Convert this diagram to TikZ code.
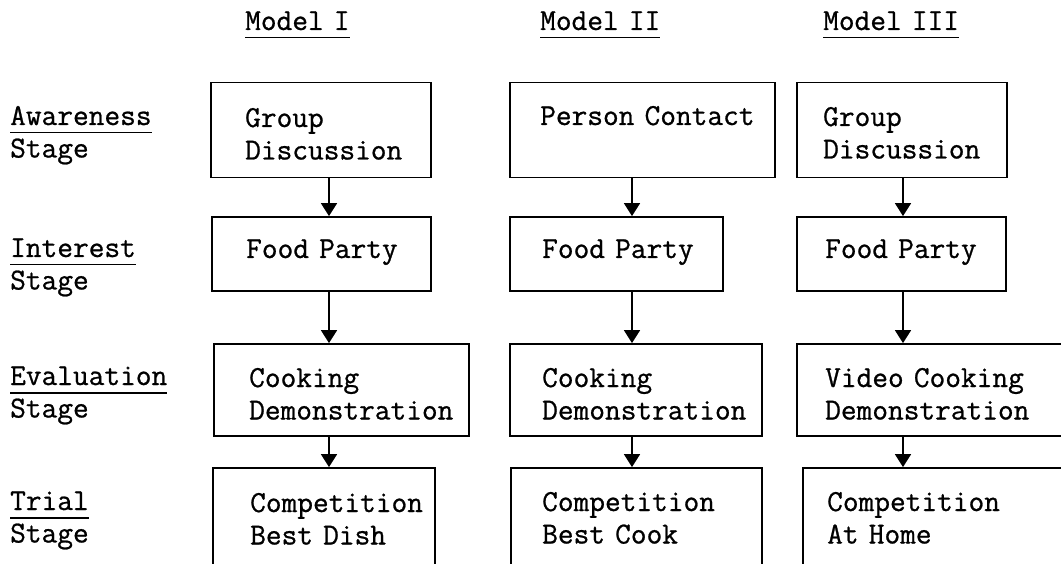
\documentclass[tikz,border=0pt]{standalone}
\usepackage{fontspec}
\usepackage{tikz}
\usetikzlibrary{arrows.meta}

\newfontfamily\typefont{Latin Modern Mono}[FakeBold=0.8]

% typed underline, a bit below the baseline
\newcommand{\typeul}[1]{\setbox0\hbox{#1}\rlap{\rule[-8.5pt]{\wd0}{1.8pt}}\box0}

\tikzset{
  stagebox/.style={draw, line width=1.8pt, inner sep=0pt},
  boxtext/.style={anchor=base west, inner sep=0pt, text width=260pt, align=left},
  flow/.style={line width=1.8pt, -{Triangle[width=16pt,length=13pt]}},
}

\begin{document}
\begin{tikzpicture}[x=1pt,y=-1pt,
    every node/.append style={font=\fontsize{30.5}{32.5}\selectfont\typefont}]
    \useasboundingbox (0,0) rectangle (1061,564);

    % column heads
    \node[boxtext] (m1) at (245,30) {\typeul{Model I}};
    \node[boxtext] (m2) at (540,30) {\typeul{Model II}};
    \node[boxtext] (m3) at (823,30) {\typeul{Model III}};

    % stages
    \node[boxtext] (s1) at (10,125) {\typeul{Awareness}\\Stage};
    \node[boxtext] (s2) at (10,257) {\typeul{Interest}\\Stage};
    \node[boxtext] (s3) at (10,385) {\typeul{Evaluation}\\Stage};
    \node[boxtext] (s4) at (10,510) {\typeul{Trial}\\Stage};

    % awareness
    \node[stagebox, minimum width=220, minimum height=95] (aw1) at (321,130) {};
    \node[stagebox, minimum width=265, minimum height=95] (aw2) at (642.5,130) {};
    \node[stagebox, minimum width=210, minimum height=95] (aw3) at (902,130) {};
    \node[boxtext] (aw1t) at (245,127) {Group\\Discussion};
    \node[boxtext] (aw2t) at (540,125) {Person Contact};
    \node[boxtext] (aw3t) at (823,126) {Group\\Discussion};

    % interest
    \node[stagebox, minimum width=219, minimum height=74] (in1) at (321.5,254) {};
    \node[stagebox, minimum width=213, minimum height=74] (in2) at (616.5,254) {};
    \node[stagebox, minimum width=209, minimum height=74] (in3) at (901.5,254) {};
    \node[boxtext] (in1t) at (246,258) {Food Party};
    \node[boxtext] (in2t) at (542,258) {Food Party};
    \node[boxtext] (in3t) at (825,258) {Food Party};

    % evaluation
    \node[stagebox, minimum width=255, minimum height=92] (ev1) at (341.5,390) {};
    \node[stagebox, minimum width=252, minimum height=92] (ev2) at (636,390) {};
    \node[stagebox, minimum width=303, minimum height=92] (ev3) at (948.5,390) {};
    \node[boxtext] (ev1t) at (249,387) {Cooking\\Demonstration};
    \node[boxtext] (ev2t) at (542,387) {Cooking\\Demonstration};
    \node[boxtext] (ev3t) at (825,387) {Video Cooking\\Demonstration};

    % trial (runs off the page)
    \node[stagebox, minimum width=222, minimum height=152] (tr1) at (324,544) {};
    \node[stagebox, minimum width=251, minimum height=152] (tr2) at (636.5,544) {};
    \node[stagebox, minimum width=297, minimum height=152] (tr3) at (951.5,544) {};
    \node[boxtext] (tr1t) at (250,512) {Competition\\Best Dish};
    \node[boxtext] (tr2t) at (542,511) {Competition\\Best Cook};
    \node[boxtext] (tr3t) at (827,511) {Competition\\At Home};

    % arrows
    \coordinate (ax1) at (329,0);
    \coordinate (ax2) at (632,0);
    \coordinate (ax3) at (903,0);
    \draw[flow] (aw1.south -| ax1) -- (in1.north -| ax1);
    \draw[flow] (in1.south -| ax1) -- (ev1.north -| ax1);
    \draw[flow] (ev1.south -| ax1) -- (tr1.north -| ax1);
    \draw[flow] (aw2.south -| ax2) -- (in2.north -| ax2);
    \draw[flow] (in2.south -| ax2) -- (ev2.north -| ax2);
    \draw[flow] (ev2.south -| ax2) -- (tr2.north -| ax2);
    \draw[flow] (aw3.south -| ax3) -- (in3.north -| ax3);
    \draw[flow] (in3.south -| ax3) -- (ev3.north -| ax3);
    \draw[flow] (ev3.south -| ax3) -- (tr3.north -| ax3);
\end{tikzpicture}
\end{document}
